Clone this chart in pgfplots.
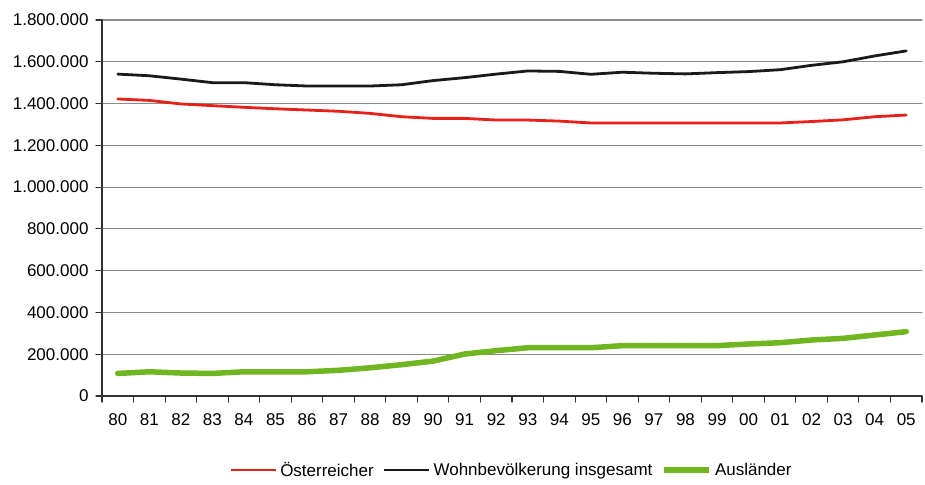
\documentclass[border=0pt]{standalone}
\usepackage{pgfplots}
\pgfplotsset{compat=1.18}
\usepackage{fontspec}
\setmainfont{Liberation Sans}
\definecolor{cred}{RGB}{232,32,26}
\definecolor{cblack}{RGB}{26,26,26}
\definecolor{cgreen}{RGB}{112,182,32}
\definecolor{cgrid}{RGB}{140,140,140}
\definecolor{caxis}{RGB}{50,50,50}
\begin{document}
\begin{tikzpicture}
\begin{axis}[
  at={(0pt,0pt)}, anchor=south west,
  width=820pt, height=376pt, scale only axis=true,
  xmin=-0.5, xmax=25.5,
  ymin=0, ymax=1800000,
  axis lines*=left,
  axis line style={caxis, line width=1.3pt},
  xtick={0,...,25},
  xticklabels={80,81,82,83,84,85,86,87,88,89,90,91,92,93,94,95,96,97,98,99,00,01,02,03,04,05},
  minor xtick={-0.5,0.5,...,25.5},
  major x tick style={draw=none},
  minor tick length=6pt,
  major tick length=6pt,
  tick align=outside,
  tick style={caxis, line width=1.1pt},
  ytick={0,200000,...,1800000},
  scaled y ticks=false,
  yticklabel style={/tikz/xshift=-4pt, /pgf/number format/.cd, fixed, precision=0, 1000 sep={.}, assume math mode=true},
  xticklabel style={/tikz/yshift=-8pt},
  ticklabel style={font=\fontsize{17}{20}\selectfont, text=black},
  ymajorgrids=true,
  grid style={cgrid, line width=1.1pt},
  legend style={at={(0.5,-0.197)}, anchor=center, draw=none, fill=none,
    font=\fontsize{17}{20}\selectfont, legend columns=3,
    nodes={inner xsep=3pt},
    /tikz/every even column/.append style={column sep=6pt}},
  legend image code/.code={\draw[#1] (0pt,0pt) -- (45pt,0pt);},
  legend cell align=left,
  line join=round, line cap=round,
]
\addplot[cred, line width=2.8pt] coordinates {
(0,1422000) (1,1415000) (2,1398000) (3,1390000) (4,1382000) (5,1375000)
(6,1369000) (7,1363000) (8,1353000) (9,1337000) (10,1329000) (11,1329000)
(12,1321000) (13,1321000) (14,1316000) (15,1307000) (16,1307000) (17,1307000)
(18,1307000) (19,1307000) (20,1307000) (21,1307000) (22,1314000) (23,1322000)
(24,1337000) (25,1345000)};
\addlegendentry{Österreicher}
\addplot[cblack, line width=2.8pt] coordinates {
(0,1541000) (1,1533000) (2,1517000) (3,1500000) (4,1500000) (5,1490000)
(6,1484000) (7,1484000) (8,1484000) (9,1490000) (10,1510000) (11,1524000)
(12,1541000) (13,1556000) (14,1554000) (15,1540000) (16,1550000) (17,1545000)
(18,1542000) (19,1548000) (20,1553000) (21,1562000) (22,1583000) (23,1600000)
(24,1628000) (25,1652000)};
\addlegendentry{Wohnbevölkerung insgesamt}
\addplot[cgreen, line width=5.5pt] coordinates {
(0,108000) (1,116000) (2,110000) (3,108000) (4,116000) (5,116000)
(6,116000) (7,123000) (8,135000) (9,150000) (10,167000) (11,201000)
(12,217000) (13,231000) (14,231000) (15,231000) (16,241000) (17,241000)
(18,241000) (19,241000) (20,249000) (21,255000) (22,268000) (23,276000)
(24,292000) (25,308000)};
\addlegendentry{Ausländer}
\end{axis}
\pgfresetboundingbox
\path (-102pt,-88pt) rectangle (823pt,396pt);
\end{tikzpicture}
\end{document}
